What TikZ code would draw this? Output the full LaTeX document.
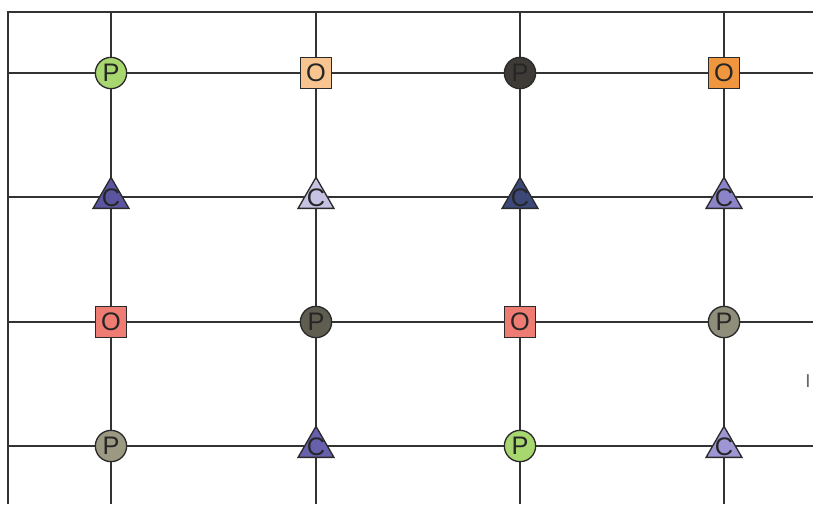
\documentclass[tikz,border=0pt]{standalone}
\usepackage{fontspec}
\setmainfont{Liberation Sans}
\usepackage{xcolor}
\usetikzlibrary{shapes.geometric}
\definecolor{gridgray}{HTML}{333333}
\definecolor{edgegray}{HTML}{2A2A2A}
\definecolor{pgreen}{HTML}{A8D66F}
\definecolor{pdark}{HTML}{3E3B37}
\definecolor{polive}{HTML}{5E5D50}
\definecolor{pgray}{HTML}{8F8E7A}
\definecolor{pgraylt}{HTML}{9B9982}
\definecolor{olight}{HTML}{F8C48F}
\definecolor{oorange}{HTML}{F0963F}
\definecolor{ored}{HTML}{EE7C72}
\definecolor{cmid}{HTML}{5B559F}
\definecolor{clight}{HTML}{C5C2E3}
\definecolor{cdark}{HTML}{3B4878}
\definecolor{clav}{HTML}{8C84C9}
\definecolor{cpurple}{HTML}{6660AD}
\definecolor{clavlt}{HTML}{9D96D3}
\tikzset{
  gridline/.style = {draw=gridgray, line width=1.4pt},
  sitefont/.style = {font=\fontsize{19}{19}\selectfont, text=black!85},
  site/.style = {draw=edgegray, line width=1pt, inner sep=0pt, sitefont},
  pcirc/.style = {site, circle, minimum size=23.5pt},
  osq/.style = {site, rectangle, minimum size=23pt},
  ctri/.style = {draw=edgegray, line width=1pt, inner sep=0pt,
    regular polygon, regular polygon sides=3, minimum size=31pt,
    label={[sitefont, inner sep=0pt]center:C}}
}

\begin{document}
\begin{tikzpicture}[x=0.75pt, y=-0.75pt]
  \useasboundingbox (0,0) rectangle (813,504);

  % frame
  \coordinate (fbl) at (8,504);
  \coordinate (ftl) at (8,12);
  \coordinate (ftr) at (813,12);
  \draw[gridline] (fbl) -- (ftl) -- (ftr);

  % grid
  \foreach \y/\n in {73/1,197/2,322/3,446/4}{
    \coordinate (w\n) at (8,\y);
    \coordinate (e\n) at (813,\y);
    \draw[gridline] (w\n) -- (e\n);
  }
  \foreach \x/\n in {111/1,316/2,520/3,724/4}{
    \coordinate (t\n) at (\x,12);
    \coordinate (b\n) at (\x,504);
    \draw[gridline] (t\n) -- (b\n);
  }

  % row 1
  \node[pcirc, fill=pgreen]  (p11) at (111,73) {P};
  \node[osq,   fill=olight]  (o12) at (316,73) {O};
  \node[pcirc, fill=pdark]   (p13) at (520,73) {P};
  \node[osq,   fill=oorange] (o14) at (724,73) {O};

  % row 2
  \node[ctri, fill=cmid]   (c21) at (111,198) {};
  \node[ctri, fill=clight] (c22) at (316,198) {};
  \node[ctri, fill=cdark]  (c23) at (520,198) {};
  \node[ctri, fill=clav]   (c24) at (724,198) {};

  % row 3
  \node[osq,   fill=ored]   (o31) at (111,322) {O};
  \node[pcirc, fill=polive] (p32) at (316,322) {P};
  \node[osq,   fill=ored]   (o33) at (520,322) {O};
  \node[pcirc, fill=pgray]  (p34) at (724,322) {P};

  % row 4
  \node[pcirc, fill=pgraylt] (p41) at (111,446) {P};
  \node[ctri,  fill=cpurple] (c42) at (316,447) {};
  \node[pcirc, fill=pgreen]  (p43) at (520,446) {P};
  \node[ctri,  fill=clavlt]  (c44) at (724,447) {};

  \node[text=black!60, font=\fontsize{14}{14}\selectfont, inner sep=0pt] (mark) at (808,381) {I};
\end{tikzpicture}
\end{document}
